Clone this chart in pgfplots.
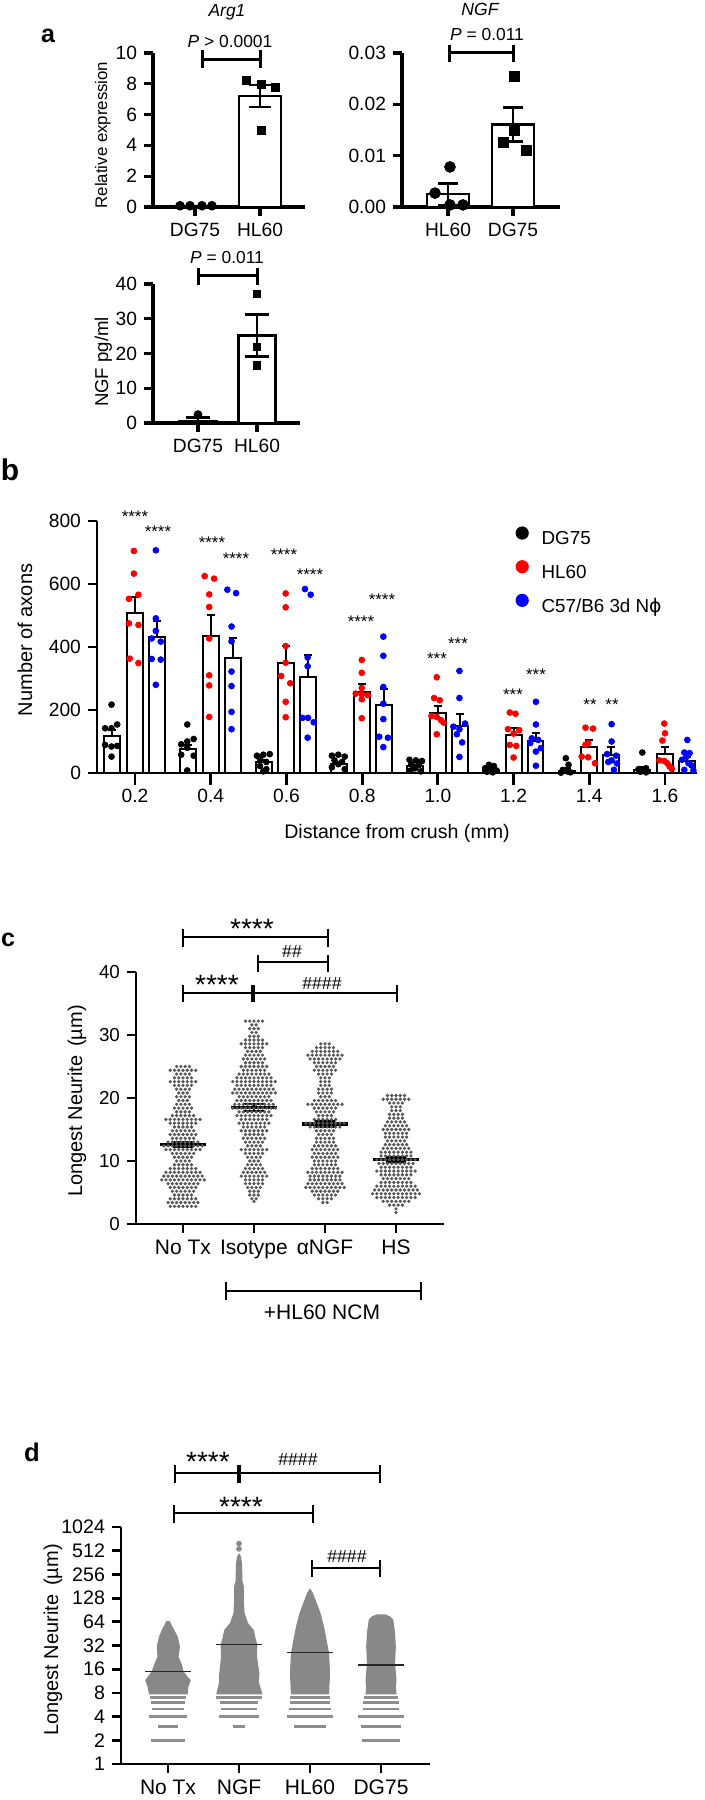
\documentclass[border=0pt]{standalone}
\usepackage{fontspec}
\setmainfont{Liberation Sans}
\newfontfamily\dejavu{DejaVu Sans}
\usepackage{pgfplots}
\pgfplotsset{compat=1.18}
\newcommand{\fsz}[1]{\fontsize{#1}{#1}\selectfont}
\definecolor{swarm}{RGB}{88,88,88}
\definecolor{blob}{RGB}{136,136,136}
\definecolor{blobline}{RGB}{142,142,142}
\pgfplotsset{
  prism/.style={
    scale only axis, anchor=south west, clip=false,
    axis lines=left, axis line style={-, line width=1.4pt},
    tick style={line width=1.4pt, black},
    tick align=outside, major tick length=4.5pt,
    /pgf/number format/assume math mode=true,
    scaled y ticks=false, scaled x ticks=false,
    minor tick num=0,
  },
  abar/.style={ybar, bar shift=0pt, fill=white, draw=black, line width=1.3pt, forget plot,
    error bars/.cd, y dir=both, y explicit,
    error bar style={line width=1.3pt, draw=black, solid},
    error mark options={rotate=90, mark size=#1, line width=1.3pt, draw=black}, /pgfplots/.cd},
  bbar/.style={ybar, bar width=0.042, bar shift=0pt, fill=white, draw=black, line width=1pt, forget plot,
    error bars/.cd, y dir=plus, y explicit,
    error bar style={line width=1pt, draw=black, solid},
    error mark options={rotate=90, mark size=2pt, line width=1pt, draw=black}, /pgfplots/.cd},
  sw/.style={only marks, mark=*, mark size=0.62pt, color=swarm},
  hbar/.style={draw=none, mark=none, forget plot,
    error bars/.cd, x dir=both, x explicit, error mark=none,
    error bar style={line width=#1, solid}, /pgfplots/.cd},
}
\begin{document}
\begin{tikzpicture}
\useasboundingbox (0,0) rectangle (352.5pt,900pt);

% ---------------- a1 Arg1
\begin{axis}[prism, at={(76.5pt,796.5pt)}, width=76pt, height=77pt,
  xmin=-0.646, xmax=1.692, ymin=0, ymax=10,
  ytick={0,2,4,6,8,10}, xtick={0,1}, xticklabels={DG75,HL60},
  axis line style={line width=1.6pt}, tick style={line width=1.6pt},
  tick label style={font=\fsz{9.6}}]
\addplot[abar=5.5pt, bar width=0.65] coordinates {(0,0.05) +- (0,0.02) (1,7.2) +- (0,0.72)};
\addplot[only marks, mark=*, mark size=2.2pt, black] coordinates {(-0.23,0.08) (-0.077,0.08) (0.108,0.08) (0.26,0.08)};
\addplot[only marks, mark=square*, mark size=2pt, black] coordinates {(0.785,8.2) (1.015,7.93) (1.23,7.76) (1.015,5.0)};
\end{axis}

% ---------------- a2 NGF
\begin{axis}[prism, at={(201pt,796.5pt)}, width=79pt, height=77pt,
  xmin=-0.708, xmax=1.723, ymin=0, ymax=0.03,
  ytick={0,0.01,0.02,0.03}, yticklabels={0.00,0.01,0.02,0.03},
  xtick={0,1}, xticklabels={HL60,DG75},
  axis line style={line width=1.6pt}, tick style={line width=1.6pt},
  tick label style={font=\fsz{9.6}}]
\addplot[abar=5pt, bar width=0.65] coordinates {(0,0.0025) +- (0,0.0021) (1,0.0161) +- (0,0.0033)};
\addplot[only marks, mark=*, mark size=2.7pt, black] coordinates {(0.03,0.0078) (-0.2,0.0027) (0.03,0.0004) (0.23,0.0004)};
\addplot[only marks, mark=square*, mark size=2.5pt, black] coordinates {(1.015,0.0254) (1.015,0.015) (0.85,0.0125) (1.2,0.0111)};
\end{axis}

% ---------------- a3 NGF pg/ml
\begin{axis}[prism, at={(76.5pt,688.5pt)}, width=73.5pt, height=69.5pt,
  xmin=-0.763, xmax=1.729, ymin=0, ymax=40,
  ytick={0,10,20,30,40}, xtick={0,1}, xticklabels={DG75,HL60},
  axis line style={line width=1.6pt}, tick style={line width=1.6pt},
  tick label style={font=\fsz{9.6}}]
\addplot[abar=6pt, bar width=0.63] coordinates {(0,0.6) +- (0,0.9) (1,25.2) +- (0,6.1)};
\addplot[only marks, mark=*, mark size=2pt, black] coordinates {(0,2.4)};
\addplot[only marks, mark=square*, mark size=1.8pt, black] coordinates {(1,37.1) (1,21.9) (1,16.6)};
\end{axis}

% ---------------- b
\begin{axis}[prism, at={(48.5pt,513.5pt)}, width=300pt, height=126pt,
  xmin=0.0996, xmax=1.6845, ymin=0, ymax=800,
  ytick={0,200,400,600,800},
  xtick={0.2,0.4,0.6,0.8,1.0,1.2,1.4,1.6},
  xticklabels={0.2,0.4,0.6,0.8,1.0,1.2,1.4,1.6},
  x tick style={/pgfplots/major tick length=6pt},
  tick label style={font=\fsz{9.6}},
  legend style={at={(0.697,0.98)}, anchor=north west, draw=none, fill=none,
    inner sep=0pt, row sep=4.1pt, font=\fsz{9.4}},
  legend cell align=left,
  legend image code/.code={\path[draw=none, fill=none] (0pt,0pt) -- (11pt,0pt); \fill[#1, draw=none] (3.3pt,3.4pt) circle[radius=3.3pt];}]
\addplot[bbar] coordinates {(0.14,119) +- (0,18) (0.34,76) +- (0,14) (0.54,36) +- (0,6) (0.74,29) +- (0,5) (0.94,21) +- (0,5) (1.14,8) +- (0,3) (1.34,6) +- (0,9) (1.54,9) +- (0,11)};
\addplot[bbar] coordinates {(0.2,509) +- (0,49) (0.4,436) +- (0,65) (0.6,350) +- (0,54) (0.8,257) +- (0,25) (1.0,189) +- (0,24) (1.2,121) +- (0,21) (1.4,84) +- (0,21) (1.6,60) +- (0,24)};
\addplot[bbar] coordinates {(0.258,433) +- (0,50) (0.458,366) +- (0,64) (0.658,304) +- (0,72) (0.858,215) +- (0,52) (1.058,149) +- (0,38) (1.258,101) +- (0,27) (1.458,56) +- (0,25) (1.658,37) +- (0,15)};
\addplot[only marks, mark=*, mark size=1.45pt, black] coordinates {
(0.138,217) (0.121,142) (0.138,142) (0.153,154) (0.121,89) (0.153,86) (0.138,84) (0.138,52)
(0.338,154) (0.322,91) (0.338,100) (0.355,108) (0.322,58) (0.355,55) (0.338,80) (0.338,8)
(0.522,55) (0.539,58) (0.556,60) (0.53,45) (0.547,35) (0.53,22) (0.547,12) (0.539,5)
(0.72,55) (0.737,58) (0.754,52) (0.727,40) (0.747,35) (0.737,28) (0.72,18) (0.754,12)
(0.925,42) (0.942,40) (0.958,38) (0.93,28) (0.95,25) (0.94,15) (0.928,8) (0.955,5)
(1.135,26) (1.148,22) (1.125,15) (1.14,12) (1.155,8) (1.13,4) (1.145,2)
(1.338,47) (1.345,26) (1.33,10) (1.342,5) (1.35,2) (1.325,1)
(1.54,65) (1.55,15) (1.53,12) (1.545,8) (1.535,4) (1.55,2)};
\addlegendentry{DG75}
\addplot[only marks, mark=*, mark size=1.45pt, red] coordinates {
(0.197,705) (0.197,633) (0.209,566) (0.184,553) (0.184,475) (0.209,470) (0.186,363) (0.209,349)
(0.384,625) (0.409,617) (0.396,567) (0.396,527) (0.396,427) (0.396,310) (0.396,278) (0.396,178)
(0.598,570) (0.598,526) (0.598,403) (0.598,350) (0.586,308) (0.61,285) (0.598,226) (0.598,177)
(0.799,359) (0.799,318) (0.799,270) (0.783,252) (0.799,250) (0.815,247) (0.799,234) (0.799,174)
(0.997,304) (0.99,238) (1.005,231) (0.983,181) (0.997,178) (1.008,168) (1.015,160) (0.997,123)
(1.19,192) (1.205,188) (1.185,139) (1.215,136) (1.2,125) (1.19,89) (1.207,86) (1.2,49)
(1.39,144) (1.41,141) (1.397,95) (1.39,90) (1.38,52) (1.397,50) (1.415,31)
(1.598,157) (1.6,126) (1.593,103) (1.585,40) (1.598,38) (1.606,31) (1.612,21) (1.618,13)};
\addlegendentry{HL60}
\addplot[only marks, mark=*, mark size=1.45pt, blue] coordinates {
(0.255,707) (0.255,491) (0.255,451) (0.244,427) (0.268,417) (0.244,362) (0.268,360) (0.255,280)
(0.444,582) (0.467,571) (0.455,465) (0.455,418) (0.455,322) (0.455,276) (0.455,194) (0.455,139)
(0.649,584) (0.664,566) (0.656,367) (0.656,339) (0.642,175) (0.657,175) (0.672,161) (0.656,112)
(0.856,433) (0.856,372) (0.856,273) (0.856,220) (0.856,171) (0.845,115) (0.868,112) (0.856,82)
(1.057,324) (1.057,238) (1.072,157) (1.041,147) (1.057,139) (1.05,123) (1.064,97) (1.057,51)
(1.259,226) (1.259,154) (1.248,110) (1.265,105) (1.244,95) (1.272,79) (1.259,68) (1.259,23)
(1.459,155) (1.459,100) (1.447,60) (1.471,55) (1.459,40) (1.45,35) (1.473,30) (1.465,10)
(1.659,105) (1.651,65) (1.665,63) (1.657,52) (1.645,42) (1.662,31) (1.67,24) (1.651,10) (1.675,8)};
\addlegendentry{C57/B6 3d N{\dejavu ϕ}}
\end{axis}

% ---------------- c
\begin{axis}[prism, at={(68pt,288pt)}, width=154pt, height=126pt,
  xmin=-0.662, xmax=3.676, ymin=0, ymax=40,
  ytick={0,10,20,30,40}, xtick={0,1,2,3}, xticklabels={No Tx,Isotype,αNGF,HS},
  yticklabel style={font=\fsz{9.4}}, xticklabel style={font=\fsz{10.5}}]
\addplot[sw] coordinates {
(-0.09,25) (-0.03,25) (0.03,25) (0.09,25)
(-0.18,24.4) (-0.12,24.4) (-0.06,24.4) (0,24.4) (0.06,24.4) (0.12,24.4) (0.18,24.4)
(-0.09,23.8) (-0.03,23.8) (0.03,23.8) (0.09,23.8)
(-0.12,23.2) (-0.06,23.2) (0,23.2) (0.06,23.2) (0.12,23.2)
(-0.18,22.6) (-0.12,22.6) (-0.06,22.6) (0,22.6) (0.06,22.6) (0.12,22.6) (0.18,22.6)
(-0.12,22) (-0.06,22) (0,22) (0.06,22) (0.12,22)
(-0.09,21.4) (-0.03,21.4) (0.03,21.4) (0.09,21.4)
(-0.06,20.8) (0,20.8) (0.06,20.8)
(-0.09,20.2) (-0.03,20.2) (0.03,20.2) (0.09,20.2)
(-0.06,19.6) (0,19.6) (0.06,19.6)
(-0.09,19) (-0.03,19) (0.03,19) (0.09,19)
(-0.12,18.4) (-0.06,18.4) (0,18.4) (0.06,18.4) (0.12,18.4)
(-0.09,17.8) (-0.03,17.8) (0.03,17.8) (0.09,17.8)
(-0.15,17.2) (-0.09,17.2) (-0.03,17.2) (0.03,17.2) (0.09,17.2) (0.15,17.2)
(-0.24,16.6) (-0.18,16.6) (-0.12,16.6) (-0.06,16.6) (0,16.6) (0.06,16.6) (0.12,16.6) (0.18,16.6) (0.24,16.6)
(-0.18,16) (-0.12,16) (-0.06,16) (0,16) (0.06,16) (0.12,16) (0.18,16)
(-0.12,15.4) (-0.06,15.4) (0,15.4) (0.06,15.4) (0.12,15.4)
(-0.15,14.8) (-0.09,14.8) (-0.03,14.8) (0.03,14.8) (0.09,14.8) (0.15,14.8)
(-0.18,14.2) (-0.12,14.2) (-0.06,14.2) (0,14.2) (0.06,14.2) (0.12,14.2) (0.18,14.2)
(-0.15,13.6) (-0.09,13.6) (-0.03,13.6) (0.03,13.6) (0.09,13.6) (0.15,13.6)
(-0.21,13) (-0.15,13) (-0.09,13) (-0.03,13) (0.03,13) (0.09,13) (0.15,13) (0.21,13)
(-0.27,12.4) (-0.21,12.4) (-0.15,12.4) (-0.09,12.4) (-0.03,12.4) (0.03,12.4) (0.09,12.4) (0.15,12.4) (0.21,12.4) (0.27,12.4)
(-0.24,11.8) (-0.18,11.8) (-0.12,11.8) (-0.06,11.8) (0,11.8) (0.06,11.8) (0.12,11.8) (0.18,11.8) (0.24,11.8)
(-0.15,11.2) (-0.09,11.2) (-0.03,11.2) (0.03,11.2) (0.09,11.2) (0.15,11.2)
(-0.12,10.6) (-0.06,10.6) (0,10.6) (0.06,10.6) (0.12,10.6)
(-0.09,10) (-0.03,10) (0.03,10) (0.09,10)
(-0.12,9.4) (-0.06,9.4) (0,9.4) (0.06,9.4) (0.12,9.4)
(-0.18,8.8) (-0.12,8.8) (-0.06,8.8) (0,8.8) (0.06,8.8) (0.12,8.8) (0.18,8.8)
(-0.24,8.2) (-0.18,8.2) (-0.12,8.2) (-0.06,8.2) (0,8.2) (0.06,8.2) (0.12,8.2) (0.18,8.2) (0.24,8.2)
(-0.27,7.6) (-0.21,7.6) (-0.15,7.6) (-0.09,7.6) (-0.03,7.6) (0.03,7.6) (0.09,7.6) (0.15,7.6) (0.21,7.6) (0.27,7.6)
(-0.3,7) (-0.24,7) (-0.18,7) (-0.12,7) (-0.06,7) (0,7) (0.06,7) (0.12,7) (0.18,7) (0.24,7) (0.3,7)
(-0.21,6.4) (-0.15,6.4) (-0.09,6.4) (-0.03,6.4) (0.03,6.4) (0.09,6.4) (0.15,6.4) (0.21,6.4)
(-0.18,5.8) (-0.12,5.8) (-0.06,5.8) (0,5.8) (0.06,5.8) (0.12,5.8) (0.18,5.8)
(-0.15,5.2) (-0.09,5.2) (-0.03,5.2) (0.03,5.2) (0.09,5.2) (0.15,5.2)
(-0.12,4.6) (-0.06,4.6) (0,4.6) (0.06,4.6) (0.12,4.6)
(-0.18,4) (-0.12,4) (-0.06,4) (0,4) (0.06,4) (0.12,4) (0.18,4)
(-0.21,3.4) (-0.15,3.4) (-0.09,3.4) (-0.03,3.4) (0.03,3.4) (0.09,3.4) (0.15,3.4) (0.21,3.4)
(-0.18,2.8) (-0.12,2.8) (-0.06,2.8) (0,2.8) (0.06,2.8) (0.12,2.8) (0.18,2.8)};
\addplot[sw, x filter/.expression={x+1}] coordinates {
(-0.12,32.2) (-0.06,32.2) (0,32.2) (0.06,32.2) (0.12,32.2)
(-0.03,31.6) (0.03,31.6)
(-0.06,31) (0,31) (0.06,31)
(-0.03,30.4) (0.03,30.4)
(-0.06,29.8) (0,29.8) (0.06,29.8)
(-0.12,29.2) (-0.06,29.2) (0,29.2) (0.06,29.2) (0.12,29.2)
(-0.18,28.6) (-0.12,28.6) (-0.06,28.6) (0,28.6) (0.06,28.6) (0.12,28.6) (0.18,28.6)
(-0.12,28) (-0.06,28) (0,28) (0.06,28) (0.12,28)
(-0.09,27.4) (-0.03,27.4) (0.03,27.4) (0.09,27.4)
(-0.12,26.8) (-0.06,26.8) (0,26.8) (0.06,26.8) (0.12,26.8)
(-0.15,26.2) (-0.09,26.2) (-0.03,26.2) (0.03,26.2) (0.09,26.2) (0.15,26.2)
(-0.12,25.6) (-0.06,25.6) (0,25.6) (0.06,25.6) (0.12,25.6)
(-0.18,25) (-0.12,25) (-0.06,25) (0,25) (0.06,25) (0.12,25) (0.18,25)
(-0.15,24.4) (-0.09,24.4) (-0.03,24.4) (0.03,24.4) (0.09,24.4) (0.15,24.4)
(-0.21,23.8) (-0.15,23.8) (-0.09,23.8) (-0.03,23.8) (0.03,23.8) (0.09,23.8) (0.15,23.8) (0.21,23.8)
(-0.24,23.2) (-0.18,23.2) (-0.12,23.2) (-0.06,23.2) (0,23.2) (0.06,23.2) (0.12,23.2) (0.18,23.2) (0.24,23.2)
(-0.3,22.6) (-0.24,22.6) (-0.18,22.6) (-0.12,22.6) (-0.06,22.6) (0,22.6) (0.06,22.6) (0.12,22.6) (0.18,22.6) (0.24,22.6) (0.3,22.6)
(-0.24,22) (-0.18,22) (-0.12,22) (-0.06,22) (0,22) (0.06,22) (0.12,22) (0.18,22) (0.24,22)
(-0.27,21.4) (-0.21,21.4) (-0.15,21.4) (-0.09,21.4) (-0.03,21.4) (0.03,21.4) (0.09,21.4) (0.15,21.4) (0.21,21.4) (0.27,21.4)
(-0.3,20.8) (-0.24,20.8) (-0.18,20.8) (-0.12,20.8) (-0.06,20.8) (0,20.8) (0.06,20.8) (0.12,20.8) (0.18,20.8) (0.24,20.8) (0.3,20.8)
(-0.21,20.2) (-0.15,20.2) (-0.09,20.2) (-0.03,20.2) (0.03,20.2) (0.09,20.2) (0.15,20.2) (0.21,20.2)
(-0.24,19.6) (-0.18,19.6) (-0.12,19.6) (-0.06,19.6) (0,19.6) (0.06,19.6) (0.12,19.6) (0.18,19.6) (0.24,19.6)
(-0.27,19) (-0.21,19) (-0.15,19) (-0.09,19) (-0.03,19) (0.03,19) (0.09,19) (0.15,19) (0.21,19) (0.27,19)
(-0.3,18.4) (-0.24,18.4) (-0.18,18.4) (-0.12,18.4) (-0.06,18.4) (0,18.4) (0.06,18.4) (0.12,18.4) (0.18,18.4) (0.24,18.4) (0.3,18.4)
(-0.21,17.8) (-0.15,17.8) (-0.09,17.8) (-0.03,17.8) (0.03,17.8) (0.09,17.8) (0.15,17.8) (0.21,17.8)
(-0.24,17.2) (-0.18,17.2) (-0.12,17.2) (-0.06,17.2) (0,17.2) (0.06,17.2) (0.12,17.2) (0.18,17.2) (0.24,17.2)
(-0.18,16.6) (-0.12,16.6) (-0.06,16.6) (0,16.6) (0.06,16.6) (0.12,16.6) (0.18,16.6)
(-0.21,16) (-0.15,16) (-0.09,16) (-0.03,16) (0.03,16) (0.09,16) (0.15,16) (0.21,16)
(-0.15,15.4) (-0.09,15.4) (-0.03,15.4) (0.03,15.4) (0.09,15.4) (0.15,15.4)
(-0.18,14.8) (-0.12,14.8) (-0.06,14.8) (0,14.8) (0.06,14.8) (0.12,14.8) (0.18,14.8)
(-0.12,14.2) (-0.06,14.2) (0,14.2) (0.06,14.2) (0.12,14.2)
(-0.15,13.6) (-0.09,13.6) (-0.03,13.6) (0.03,13.6) (0.09,13.6) (0.15,13.6)
(-0.12,13) (-0.06,13) (0,13) (0.06,13) (0.12,13)
(-0.09,12.4) (-0.03,12.4) (0.03,12.4) (0.09,12.4)
(-0.18,11.8) (-0.12,11.8) (-0.06,11.8) (0,11.8) (0.06,11.8) (0.12,11.8) (0.18,11.8)
(-0.12,11.2) (-0.06,11.2) (0,11.2) (0.06,11.2) (0.12,11.2)
(-0.09,10.6) (-0.03,10.6) (0.03,10.6) (0.09,10.6)
(-0.06,10) (0,10) (0.06,10)
(-0.09,9.4) (-0.03,9.4) (0.03,9.4) (0.09,9.4)
(-0.12,8.8) (-0.06,8.8) (0,8.8) (0.06,8.8) (0.12,8.8)
(-0.15,8.2) (-0.09,8.2) (-0.03,8.2) (0.03,8.2) (0.09,8.2) (0.15,8.2)
(-0.18,7.6) (-0.12,7.6) (-0.06,7.6) (0,7.6) (0.06,7.6) (0.12,7.6) (0.18,7.6)
(-0.12,7) (-0.06,7) (0,7) (0.06,7) (0.12,7)
(-0.12,6.4) (-0.06,6.4) (0,6.4) (0.06,6.4) (0.12,6.4)
(-0.09,5.8) (-0.03,5.8) (0.03,5.8) (0.09,5.8)
(-0.06,5.2) (0,5.2) (0.06,5.2)
(-0.06,4.6) (0,4.6) (0.06,4.6)
(-0.03,4) (0.03,4)
(0,3.6)};
\addplot[sw, x filter/.expression={x+2}] coordinates {
(-0.06,28.6) (0,28.6) (0.06,28.6)
(-0.12,28) (-0.06,28) (0,28) (0.06,28) (0.12,28)
(-0.18,27.4) (-0.12,27.4) (-0.06,27.4) (0,27.4) (0.06,27.4) (0.12,27.4) (0.18,27.4)
(-0.24,26.8) (-0.18,26.8) (-0.12,26.8) (-0.06,26.8) (0,26.8) (0.06,26.8) (0.12,26.8) (0.18,26.8) (0.24,26.8)
(-0.21,26.2) (-0.15,26.2) (-0.09,26.2) (-0.03,26.2) (0.03,26.2) (0.09,26.2) (0.15,26.2) (0.21,26.2)
(-0.15,25.6) (-0.09,25.6) (-0.03,25.6) (0.03,25.6) (0.09,25.6) (0.15,25.6)
(-0.12,25) (-0.06,25) (0,25) (0.06,25) (0.12,25)
(-0.15,24.4) (-0.09,24.4) (-0.03,24.4) (0.03,24.4) (0.09,24.4) (0.15,24.4)
(-0.09,23.8) (-0.03,23.8) (0.03,23.8) (0.09,23.8)
(-0.06,23.2) (0,23.2) (0.06,23.2)
(-0.06,22.6) (0,22.6) (0.06,22.6)
(-0.06,22) (0,22) (0.06,22)
(-0.09,21.4) (-0.03,21.4) (0.03,21.4) (0.09,21.4)
(-0.09,20.8) (-0.03,20.8) (0.03,20.8) (0.09,20.8)
(-0.06,20.2) (0,20.2) (0.06,20.2)
(-0.15,19.6) (-0.09,19.6) (-0.03,19.6) (0.03,19.6) (0.09,19.6) (0.15,19.6)
(-0.24,19) (-0.18,19) (-0.12,19) (-0.06,19) (0,19) (0.06,19) (0.12,19) (0.18,19) (0.24,19)
(-0.15,18.4) (-0.09,18.4) (-0.03,18.4) (0.03,18.4) (0.09,18.4) (0.15,18.4)
(-0.12,17.8) (-0.06,17.8) (0,17.8) (0.06,17.8) (0.12,17.8)
(-0.09,17.2) (-0.03,17.2) (0.03,17.2) (0.09,17.2)
(-0.15,16.6) (-0.09,16.6) (-0.03,16.6) (0.03,16.6) (0.09,16.6) (0.15,16.6)
(-0.27,16) (-0.21,16) (-0.15,16) (-0.09,16) (-0.03,16) (0.03,16) (0.09,16) (0.15,16) (0.21,16) (0.27,16)
(-0.21,15.4) (-0.15,15.4) (-0.09,15.4) (-0.03,15.4) (0.03,15.4) (0.09,15.4) (0.15,15.4) (0.21,15.4)
(-0.12,14.8) (-0.06,14.8) (0,14.8) (0.06,14.8) (0.12,14.8)
(-0.09,14.2) (-0.03,14.2) (0.03,14.2) (0.09,14.2)
(-0.12,13.6) (-0.06,13.6) (0,13.6) (0.06,13.6) (0.12,13.6)
(-0.12,13) (-0.06,13) (0,13) (0.06,13) (0.12,13)
(-0.15,12.4) (-0.09,12.4) (-0.03,12.4) (0.03,12.4) (0.09,12.4) (0.15,12.4)
(-0.18,11.8) (-0.12,11.8) (-0.06,11.8) (0,11.8) (0.06,11.8) (0.12,11.8) (0.18,11.8)
(-0.15,11.2) (-0.09,11.2) (-0.03,11.2) (0.03,11.2) (0.09,11.2) (0.15,11.2)
(-0.18,10.6) (-0.12,10.6) (-0.06,10.6) (0,10.6) (0.06,10.6) (0.12,10.6) (0.18,10.6)
(-0.15,10) (-0.09,10) (-0.03,10) (0.03,10) (0.09,10) (0.15,10)
(-0.15,9.4) (-0.09,9.4) (-0.03,9.4) (0.03,9.4) (0.09,9.4) (0.15,9.4)
(-0.18,8.8) (-0.12,8.8) (-0.06,8.8) (0,8.8) (0.06,8.8) (0.12,8.8) (0.18,8.8)
(-0.24,8.2) (-0.18,8.2) (-0.12,8.2) (-0.06,8.2) (0,8.2) (0.06,8.2) (0.12,8.2) (0.18,8.2) (0.24,8.2)
(-0.21,7.6) (-0.15,7.6) (-0.09,7.6) (-0.03,7.6) (0.03,7.6) (0.09,7.6) (0.15,7.6) (0.21,7.6)
(-0.21,7) (-0.15,7) (-0.09,7) (-0.03,7) (0.03,7) (0.09,7) (0.15,7) (0.21,7)
(-0.24,6.4) (-0.18,6.4) (-0.12,6.4) (-0.06,6.4) (0,6.4) (0.06,6.4) (0.12,6.4) (0.18,6.4) (0.24,6.4)
(-0.27,5.8) (-0.21,5.8) (-0.15,5.8) (-0.09,5.8) (-0.03,5.8) (0.03,5.8) (0.09,5.8) (0.15,5.8) (0.21,5.8) (0.27,5.8)
(-0.18,5.2) (-0.12,5.2) (-0.06,5.2) (0,5.2) (0.06,5.2) (0.12,5.2) (0.18,5.2)
(-0.15,4.6) (-0.09,4.6) (-0.03,4.6) (0.03,4.6) (0.09,4.6) (0.15,4.6)
(-0.09,4) (-0.03,4) (0.03,4) (0.09,4)
(-0.03,3.4) (0.03,3.4)};
\addplot[sw, x filter/.expression={x+3}] coordinates {
(-0.12,20.4) (-0.06,20.4) (0,20.4) (0.06,20.4) (0.12,20.4)
(-0.18,19.8) (-0.12,19.8) (-0.06,19.8) (0,19.8) (0.06,19.8) (0.12,19.8) (0.18,19.8)
(-0.09,19.2) (-0.03,19.2) (0.03,19.2) (0.09,19.2)
(-0.06,18.6) (0,18.6) (0.06,18.6)
(-0.06,18) (0,18) (0.06,18)
(-0.09,17.4) (-0.03,17.4) (0.03,17.4) (0.09,17.4)
(-0.09,16.8) (-0.03,16.8) (0.03,16.8) (0.09,16.8)
(-0.12,16.2) (-0.06,16.2) (0,16.2) (0.06,16.2) (0.12,16.2)
(-0.15,15.6) (-0.09,15.6) (-0.03,15.6) (0.03,15.6) (0.09,15.6) (0.15,15.6)
(-0.18,15) (-0.12,15) (-0.06,15) (0,15) (0.06,15) (0.12,15) (0.18,15)
(-0.15,14.4) (-0.09,14.4) (-0.03,14.4) (0.03,14.4) (0.09,14.4) (0.15,14.4)
(-0.15,13.8) (-0.09,13.8) (-0.03,13.8) (0.03,13.8) (0.09,13.8) (0.15,13.8)
(-0.12,13.2) (-0.06,13.2) (0,13.2) (0.06,13.2) (0.12,13.2)
(-0.15,12.6) (-0.09,12.6) (-0.03,12.6) (0.03,12.6) (0.09,12.6) (0.15,12.6)
(-0.18,12) (-0.12,12) (-0.06,12) (0,12) (0.06,12) (0.12,12) (0.18,12)
(-0.21,11.4) (-0.15,11.4) (-0.09,11.4) (-0.03,11.4) (0.03,11.4) (0.09,11.4) (0.15,11.4) (0.21,11.4)
(-0.21,10.8) (-0.15,10.8) (-0.09,10.8) (-0.03,10.8) (0.03,10.8) (0.09,10.8) (0.15,10.8) (0.21,10.8)
(-0.27,10.2) (-0.21,10.2) (-0.15,10.2) (-0.09,10.2) (-0.03,10.2) (0.03,10.2) (0.09,10.2) (0.15,10.2) (0.21,10.2) (0.27,10.2)
(-0.24,9.6) (-0.18,9.6) (-0.12,9.6) (-0.06,9.6) (0,9.6) (0.06,9.6) (0.12,9.6) (0.18,9.6) (0.24,9.6)
(-0.21,9) (-0.15,9) (-0.09,9) (-0.03,9) (0.03,9) (0.09,9) (0.15,9) (0.21,9)
(-0.27,8.4) (-0.21,8.4) (-0.15,8.4) (-0.09,8.4) (-0.03,8.4) (0.03,8.4) (0.09,8.4) (0.15,8.4) (0.21,8.4) (0.27,8.4)
(-0.21,7.8) (-0.15,7.8) (-0.09,7.8) (-0.03,7.8) (0.03,7.8) (0.09,7.8) (0.15,7.8) (0.21,7.8)
(-0.18,7.2) (-0.12,7.2) (-0.06,7.2) (0,7.2) (0.06,7.2) (0.12,7.2) (0.18,7.2)
(-0.21,6.6) (-0.15,6.6) (-0.09,6.6) (-0.03,6.6) (0.03,6.6) (0.09,6.6) (0.15,6.6) (0.21,6.6)
(-0.27,6) (-0.21,6) (-0.15,6) (-0.09,6) (-0.03,6) (0.03,6) (0.09,6) (0.15,6) (0.21,6) (0.27,6)
(-0.3,5.4) (-0.24,5.4) (-0.18,5.4) (-0.12,5.4) (-0.06,5.4) (0,5.4) (0.06,5.4) (0.12,5.4) (0.18,5.4) (0.24,5.4) (0.3,5.4)
(-0.33,4.8) (-0.27,4.8) (-0.21,4.8) (-0.15,4.8) (-0.09,4.8) (-0.03,4.8) (0.03,4.8) (0.09,4.8) (0.15,4.8) (0.21,4.8) (0.27,4.8) (0.33,4.8)
(-0.27,4.2) (-0.21,4.2) (-0.15,4.2) (-0.09,4.2) (-0.03,4.2) (0.03,4.2) (0.09,4.2) (0.15,4.2) (0.21,4.2) (0.27,4.2)
(-0.18,3.6) (-0.12,3.6) (-0.06,3.6) (0,3.6) (0.06,3.6) (0.12,3.6) (0.18,3.6)
(-0.09,3) (-0.03,3) (0.03,3) (0.09,3)
(0,2.4) (0,1.8)};
% means (thick lines) and SEM
\addplot[hbar=1.8pt, error bars/error bar style={draw=black}] coordinates {(0,12.65) +- (0.33,0) (1,18.5) +- (0.33,0) (2,15.85) +- (0.33,0) (3,10.25) +- (0.33,0)};
\addplot[draw=none, mark=none, forget plot, error bars/.cd, y dir=both, y explicit,
  error bar style={line width=1pt, draw=black, solid},
  error mark options={rotate=90, mark size=5pt, line width=1pt, draw=black}] coordinates {(0,12.65) +- (0,0.4) (1,18.5) +- (0,0.5) (2,15.85) +- (0,0.45) (3,10.25) +- (0,0.35)};
\end{axis}

% ---------------- d
\begin{axis}[prism, at={(60.5pt,18pt)}, width=154.5pt, height=118.5pt,
  xmin=-0.662, xmax=3.69, ymode=log, log basis y=2, ymin=1, ymax=1024,
  ytick={1,2,4,8,16,32,64,128,256,512,1024},
  yticklabels={1,2,4,8,16,32,64,128,256,512,1024},
  xtick={0,1,2,3}, xticklabels={No Tx,NGF,HL60,DG75},
  yticklabel style={font=\fsz{9.8}}, xticklabel style={font=\fsz{10.5}}]
\addplot[fill=blob, draw=blob, line width=0.6pt] coordinates {(0.27,7.8) (0.28,9.6) (0.31,11.6) (0.26,13) (0.21,15) (0.19,18) (0.14,23) (0.16,31) (0.13,41) (0.08,50) (0.05,56) (0.02,64) (-0.02,64) (-0.05,56) (-0.08,50) (-0.12,41) (-0.15,31) (-0.14,23) (-0.19,18) (-0.22,15) (-0.27,13) (-0.31,11.6) (-0.28,9.6) (-0.26,7.8)} --cycle;
\addplot[fill=blob, draw=blob, line width=0.6pt] coordinates {(1.32,7.8) (1.27,11) (1.28,14) (1.245,23) (1.25,33) (1.23,37.5) (1.2,50) (1.12,61) (1.07,82) (1.06,120) (1.06,180) (1.04,210) (1.035,340) (1.02,430) (1,460) (0.98,430) (0.965,340) (0.96,210) (0.94,180) (0.94,120) (0.93,82) (0.88,61) (0.8,50) (0.77,37.5) (0.75,33) (0.755,23) (0.73,14) (0.73,11) (0.69,7.8)} --cycle;
\addplot[fill=blob, draw=blob, line width=0.6pt] coordinates {(2.26,7.8) (2.27,11.8) (2.27,17) (2.26,25.5) (2.225,37.5) (2.19,55) (2.14,82) (2.07,121) (2.03,150) (2,165) (1.97,150) (1.93,121) (1.86,82) (1.81,55) (1.775,37.5) (1.74,25.5) (1.73,17) (1.73,11.8) (1.74,7.8)} --cycle;
\addplot[fill=blob, draw=blob, line width=0.6pt] coordinates {(3.21,7.8) (3.2,9.4) (3.21,11.6) (3.19,19) (3.2,31) (3.19,45.6) (3.165,67.5) (3.12,74) (3.06,78) (2.94,78) (2.88,74) (2.835,67.5) (2.81,45.6) (2.8,31) (2.81,19) (2.79,11.6) (2.8,9.4) (2.79,7.8)} --cycle;
\addplot[only marks, mark=*, mark size=1.2pt, blob] coordinates {(1,630) (1,540)};
% discrete low values (rows of stacked points)
\addplot[hbar=1.4pt, error bars/error bar style={draw=blobline}] coordinates {
(0,7) +- (0.26,0) (0,6) +- (0.245,0) (0,5) +- (0.22,0) (0,4) +- (0.27,0) (0,3) +- (0.14,0) (0,2) +- (0.24,0)
(1,7) +- (0.32,0) (1,6) +- (0.27,0) (1,5) +- (0.26,0) (1,4) +- (0.28,0) (1,3) +- (0.08,0)
(2,7) +- (0.28,0) (2,6) +- (0.28,0) (2,5) +- (0.29,0) (2,4) +- (0.33,0) (2,3) +- (0.22,0)
(3,7) +- (0.235,0) (3,6) +- (0.25,0) (3,5) +- (0.26,0) (3,4) +- (0.32,0) (3,3) +- (0.28,0) (3,2) +- (0.27,0)};
% means
\addplot[hbar=0.7pt, error bars/error bar style={draw=black!85}] coordinates {(0,14.9) +- (0.33,0) (1,33.1) +- (0.33,0) (2,26.2) +- (0.33,0) (3,18.1) +- (0.33,0)};
\end{axis}

% ---------------- annotations (pixel coordinates)
\begin{scope}[x=0.5pt, y=-0.5pt, shift={(0pt,900pt)}]
% panel a
\node[anchor=base, font=\fsz{12.5}\bfseries] at (48,43) {a};
\node[anchor=base, font=\fsz{8.7}\itshape] at (227,17) {Arg1};
\node[anchor=base, font=\fsz{8.7}] at (230,48) {{\itshape P} > 0.0001};
\draw[line width=1.5pt] (202,60) -- (260,60) (202,50) -- (202,68) (260,50) -- (260,68);
\node[anchor=base, font=\fsz{8.8}\itshape] at (480,16) {NGF};
\node[anchor=base, font=\fsz{8.7}] at (487,41) {{\itshape P} = 0.011};
\draw[line width=1.5pt] (449,53) -- (513,53) (449,45) -- (449,62) (513,45) -- (513,62);
\node[anchor=base, font=\fsz{8.7}] at (227,264) {{\itshape P} = 0.011};
\draw[line width=1.5pt] (198,276) -- (257,276) (198,268) -- (198,285) (257,268) -- (257,285);
\node[anchor=base, rotate=90, font=\fsz{8.4}] at (107,135) {Relative expression};
\node[anchor=base, rotate=90, font=\fsz{9.3}] at (108,362) {NGF pg/ml};
% panel b
\node[anchor=base, font=\fsz{15}\bfseries] at (10,481) {b};
\node[anchor=base, rotate=90, font=\fsz{10}] at (32,640) {Number of axons};
\node[anchor=base, font=\fsz{9.8}] at (397,839) {Distance from crush (mm)};
\begin{scope}[every node/.style={anchor=base, font=\fsz{8.4}, inner sep=0pt}]
\node at (135,523) {****}; \node at (158,538) {****};
\node at (212,549) {****}; \node at (236,565) {****};
\node at (284,561) {****}; \node at (310,581) {****};
\node at (361,628) {****}; \node at (382,606) {****};
\node at (437,665) {***}; \node at (458,650) {***};
\node at (513,701) {***}; \node at (536,681) {***};
\node at (590,711) {**}; \node at (612,711) {**};
\end{scope}
% panel c
\node[anchor=base, font=\fsz{12.5}\bfseries] at (8,947) {c};
\node[anchor=base, rotate=90, font=\fsz{10}] at (82,1101) {Longest Neurite\hspace{0.45em}(µm)};
\draw[line width=1.2pt] (183,937) -- (328,937) (183,929) -- (183,947) (328,929) -- (328,947);
\node[anchor=base, font=\fsz{14}] at (252,939) {****};
\draw[line width=1.2pt] (258,962) -- (328,962) (258,955) -- (258,972) (328,955) -- (328,972);
\node[anchor=base, font=\fsz{8.8}] at (292,958) {\#\#};
\draw[line width=1.2pt] (183,993) -- (397,993) (183,985) -- (183,1002) (397,985) -- (397,1002);
\draw[line width=2.4pt] (253,985) -- (253,1002);
\node[anchor=base, font=\fsz{14}] at (217,995) {****};
\node[anchor=base, font=\fsz{8.8}] at (322,990) {\#\#\#\#};
\draw[line width=1.3pt] (226,1291) -- (421,1291) (226,1282) -- (226,1300) (421,1282) -- (421,1300);
\node[anchor=base, font=\fsz{10.5}] at (322,1320) {+HL60 NCM};
% panel d
\node[anchor=base, font=\fsz{12.8}\bfseries] at (32,1462) {d};
\node[anchor=base, rotate=90, font=\fsz{10}] at (58,1640) {Longest Neurite\hspace{0.45em}(µm)};
\draw[line width=1.2pt] (175,1473) -- (380,1473) (175,1465) -- (175,1483) (380,1465) -- (380,1483);
\draw[line width=2.4pt] (239,1465) -- (239,1483);
\node[anchor=base, font=\fsz{14}] at (208,1472) {****};
\node[anchor=base, font=\fsz{8.8}] at (298,1466) {\#\#\#\#};
\draw[line width=1.2pt] (174,1513) -- (313,1513) (174,1505) -- (174,1523) (313,1505) -- (313,1523);
\node[anchor=base, font=\fsz{14}] at (241,1517) {****};
\draw[line width=1.2pt] (312,1568) -- (380,1568) (312,1560) -- (312,1577) (380,1560) -- (380,1577);
\node[anchor=base, font=\fsz{8.8}] at (347,1563) {\#\#\#\#};
\end{scope}
\end{tikzpicture}
\end{document}
